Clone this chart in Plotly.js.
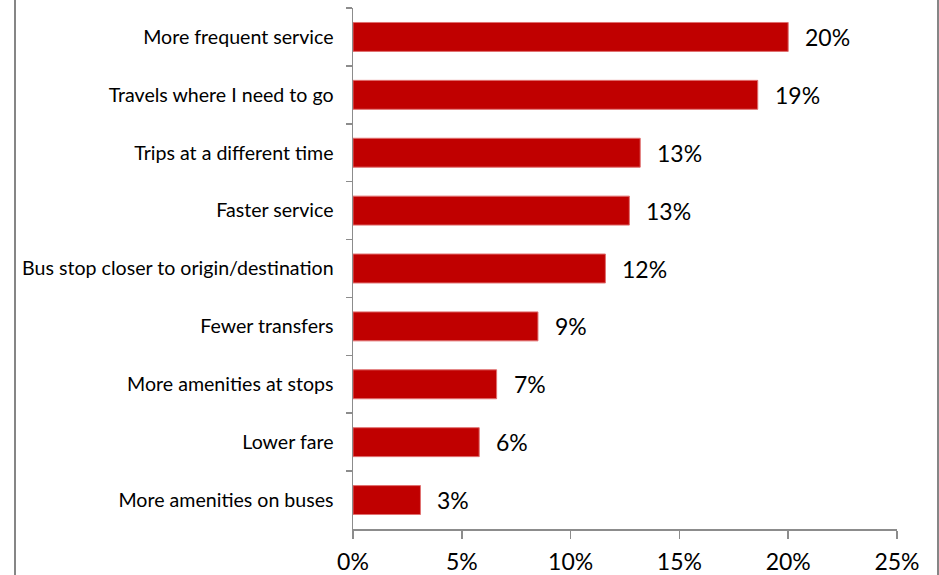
<!DOCTYPE html>
<html>
<head>
<meta charset="utf-8">
<script src="https://cdn.plot.ly/plotly-3.0.1.min.js"></script>
<style>
html,body{margin:0;padding:0;background:#fff;overflow:hidden;}
#wrap{position:relative;width:939px;height:575px;}
#chart{width:939px;height:575px;}
#frame{position:absolute;left:14px;top:-5px;width:921px;height:590px;border-left:2px solid #868686;border-right:2px solid #868686;pointer-events:none;z-index:10;}
</style>
</head>
<body>
<div id="wrap"><div id="chart"></div><div id="frame"></div></div>
<script>
const categories = [
  "More frequent service",
  "Travels where I need to go",
  "Trips at a different time",
  "Faster service",
  "Bus stop closer to origin/destination",
  "Fewer transfers",
  "More amenities at stops",
  "Lower fare",
  "More amenities on buses"
];
const values = [0.200, 0.186, 0.132, 0.127, 0.116, 0.085, 0.066, 0.058, 0.031];
const valueLabels = ["20%", "19%", "13%", "13%", "12%", "9%", "7%", "6%", "3%"];
const xTickVals = [0, 0.05, 0.10, 0.15, 0.20, 0.25];
const xTickText = ["0%", "5%", "10%", "15%", "20%", "25%"];

const FONT = "Lato, 'Open Sans', sans-serif";

const trace = {
  type: "bar",
  orientation: "h",
  y: categories,
  x: values,
  width: 0.5,
  marker: {color: "#C00000", line: {color: "#E07070", width: 1}},
  hoverinfo: "none"
};

const annotations = categories.map((c, i) => ({
  x: values[i], y: c, xref: "x", yref: "y",
  text: valueLabels[i], showarrow: false,
  xanchor: "left", yanchor: "middle", xshift: 15,
  font: {family: FONT, size: 23, color: "#000"}
}));

const layout = {
  width: 939, height: 575,
  margin: {l: 353, r: 42, t: 8, b: 46, pad: 0},
  paper_bgcolor: "#fff", plot_bgcolor: "#fff",
  showlegend: false,
  bargap: 0.5,
  xaxis: {
    range: [0, 0.25], tickvals: xTickVals, ticktext: xTickText,
    showgrid: false, zeroline: false,
    showline: true, linecolor: "#8c8c8c", linewidth: 1.5,
    ticks: "outside", ticklen: 8, tickcolor: "#8c8c8c", tickwidth: 1.5,
    tickfont: {family: FONT, size: 23, color: "#000"},
    ticklabelstandoff: 4, fixedrange: true
  },
  yaxis: {
    type: "category", autorange: "reversed",
    showgrid: false, zeroline: false,
    showline: true, linecolor: "#8c8c8c", linewidth: 1.5,
    ticks: "outside", ticklen: 6, tickcolor: "#8c8c8c", tickwidth: 1.5,
    tickson: "boundaries",
    tickfont: {family: FONT, size: 19.6, color: "#000"},
    ticklabelstandoff: 14, fixedrange: true
  },
  annotations: annotations
};

Plotly.newPlot("chart", [trace], layout, {displayModeBar: false, staticPlot: true});
</script>
</body>
</html>
